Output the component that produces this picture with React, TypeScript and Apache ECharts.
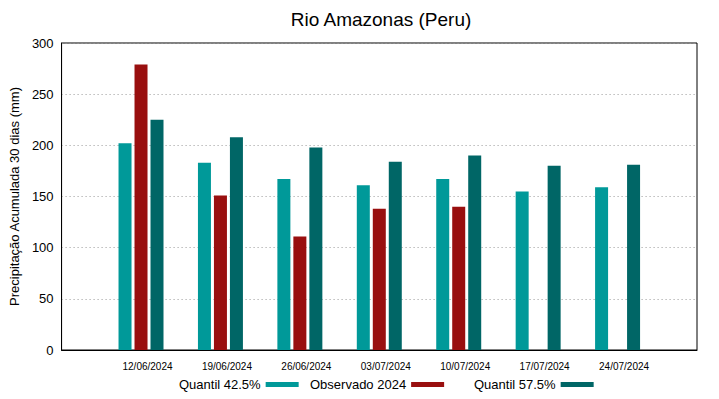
import React, { useEffect, useRef } from "react";
import * as echarts from "echarts";

const categories = ["", "12/06/2024", "19/06/2024", "26/06/2024", "03/07/2024", "10/07/2024", "17/07/2024", "24/07/2024", ""];
const quantil425 = [null, 202, 183, 167, 161, 167, 155, 159, null];
const observado2024 = [null, 279, 151, 111, 138, 140, null, null, null];
const quantil575 = [null, 225, 208, 198, 184, 190, 180, 181, null];
const yTicks = [0, 50, 100, 150, 200, 250, 300];

const C1 = "#009999";
const C2 = "#990f0f";
const C3 = "#006666";
const FONT = "Liberation Sans";

export default function App() {
  const ref = useRef<HTMLDivElement>(null);
  useEffect(() => {
    const chart = echarts.init(ref.current!, null, { renderer: "svg" });
    const legendBase = {
      bottom: 3,
      itemWidth: 33,
      itemHeight: 5,
      align: "right" as const,
      icon: "rect",
      textStyle: { fontFamily: FONT, fontSize: 13, color: "#000" },
      itemGap: 0,
    };
    chart.setOption({
      animation: false,
      backgroundColor: "#fff",
      title: {
        text: "Rio Amazonas (Peru)",
        left: 376,
        textAlign: "center",
        top: 5,
        textStyle: { fontFamily: FONT, fontSize: 19, fontWeight: "normal", color: "#000" },
      },
      legend: [
        { ...legendBase, left: 174, data: ["Quantil 42.5%"] },
        { ...legendBase, left: 305, data: ["Observado 2024"] },
        { ...legendBase, left: 469, data: ["Quantil 57.5%"] },
      ],
      grid: {
        left: 58,
        right: 22,
        top: 43,
        bottom: 49,
        show: true,
        borderColor: "#000",
        borderWidth: 1,
        backgroundColor: "transparent",
      },
      xAxis: {
        type: "category",
        data: categories,
        boundaryGap: false,
        axisLine: { show: true, lineStyle: { color: "#000" } },
        axisTick: { show: false },
        axisLabel: {
          interval: 0,
          fontFamily: FONT,
          fontSize: 10,
          color: "#000",
          margin: 11,
          padding: [0, 0, 0, 13],
        },
        splitLine: { show: false },
      },
      yAxis: {
        type: "value",
        min: yTicks[0],
        max: yTicks[yTicks.length - 1],
        interval: 50,
        name: "Precipitação Acumulada 30 dias (mm)",
        nameLocation: "middle",
        nameGap: 35,
        nameTextStyle: { fontFamily: FONT, fontSize: 13, color: "#000" },
        axisLine: { show: true, lineStyle: { color: "#000" } },
        axisTick: { show: false },
        axisLabel: { fontFamily: FONT, fontSize: 13, color: "#000", margin: 8 },
        splitLine: { show: true, lineStyle: { color: "#999", type: [1, 3], width: 1 } },
      },
      series: [
        {
          name: "Quantil 42.5%",
          type: "bar",
          data: quantil425,
          barWidth: 13,
          barGap: "23%",
          itemStyle: { color: C1 },
        },
        {
          name: "Observado 2024",
          type: "bar",
          data: observado2024,
          barWidth: 13,
          barGap: "23%",
          itemStyle: { color: C2 },
        },
        {
          name: "Quantil 57.5%",
          type: "bar",
          data: quantil575,
          barWidth: 13,
          barGap: "23%",
          itemStyle: { color: C3 },
        },
      ],
    });
    return () => chart.dispose();
  }, []);
  return <div ref={ref} style={{ position: "fixed", left: 0, top: 0, width: 719, height: 399 }} />;
}
